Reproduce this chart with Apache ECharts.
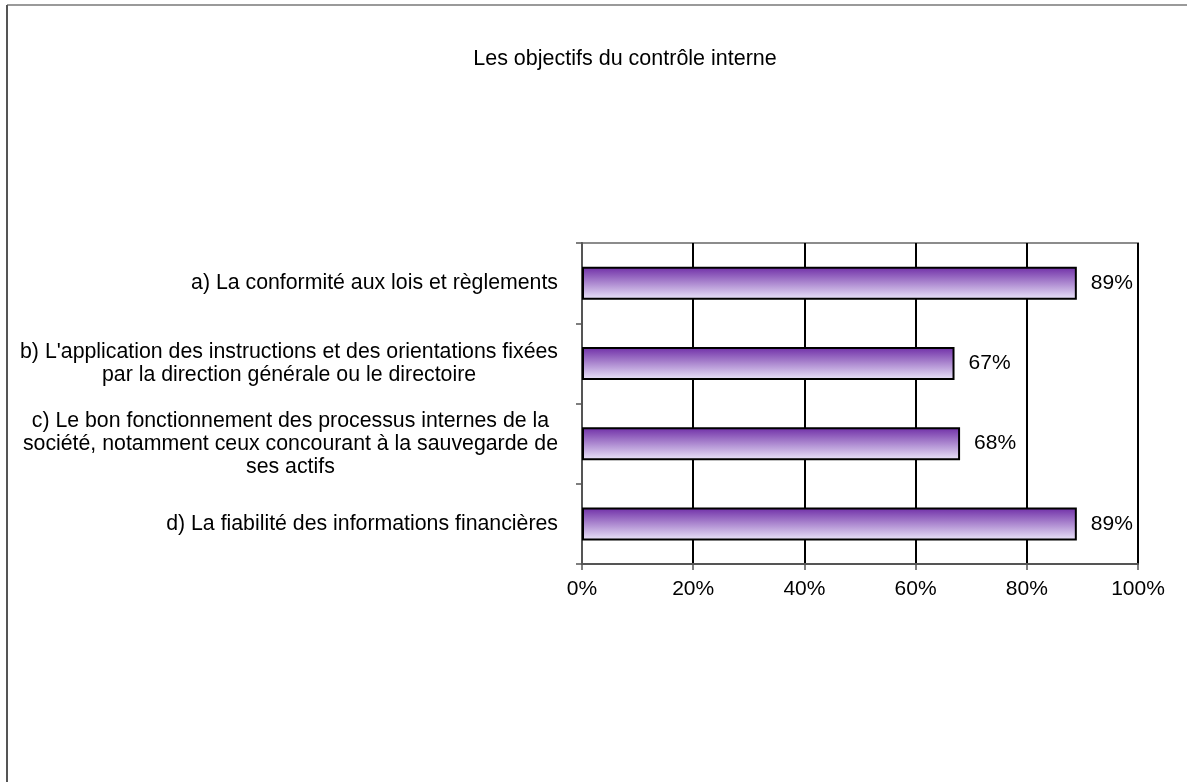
<!DOCTYPE html>
<html><head><meta charset="utf-8">
<script src="https://cdn.jsdelivr.net/npm/echarts@6/dist/echarts.min.js"></script>
<style>html,body{margin:0;padding:0;background:#fff}#c{width:1187px;height:782px}</style>
</head><body><div id="c"></div>
<script>
const chartTitle = 'Les objectifs du contrôle interne';
const categories = [
  'a) La conformité aux lois et règlements',
  "b) L'application des instructions et des orientations fixées\npar la direction générale ou le directoire",
  'c) Le bon fonctionnement des processus internes de la\nsociété, notamment ceux concourant à la sauvegarde de\nses actifs',
  'd) La fiabilité des informations financières'
];
const values = [89, 67, 68, 89];
const tickLabels = ['0%', '20%', '40%', '60%', '80%', '100%'];

const FONT = '"Liberation Sans", Arial, sans-serif';
const FS = 21;
const CAT_FS = 21.3;
const chart = echarts.init(document.getElementById('c'), null, {renderer: 'canvas'});

const option = {
  animation: false,
  backgroundColor: '#fff',
  textStyle: {fontFamily: FONT},
  title: {
    text: chartTitle, left: 620, top: 43, textAlign: 'center',
    textStyle: {fontSize: 21.5, fontWeight: 'normal', color: '#000', fontFamily: FONT}
  },
  grid: {left: 582, right: 49, top: 243, bottom: 218, show: true, borderColor: '#8c8c8c', borderWidth: 2, backgroundColor: 'transparent'},
  xAxis: {
    type: 'value', min: 0, max: 100, interval: 20,
    axisLine: {show: true, lineStyle: {color: '#555', width: 2}},
    axisTick: {show: true, length: 6, lineStyle: {color: '#555', width: 1.5}},
    axisLabel: {fontSize: FS, color: '#000', margin: 15, fontFamily: FONT,
      formatter: v => tickLabels[Math.round(v / 20)]},
    splitLine: {show: true, lineStyle: {color: '#000', width: 2}}
  },
  yAxis: {
    type: 'category', data: categories, inverse: true,
    axisLine: {show: true, lineStyle: {color: '#555', width: 2}},
    axisTick: {show: true, length: 6, lineStyle: {color: '#555', width: 1.5}},
    axisLabel: {show: false},
    splitLine: {show: false}
  },
  series: [{
    type: 'bar', data: values, barWidth: 33,
    itemStyle: {
      color: new echarts.graphic.LinearGradient(0, 0, 0, 1, [
        {offset: 0, color: '#6e2ca6'},
        {offset: 1, color: '#ebe6fa'}
      ]),
      borderColor: '#000', borderWidth: 2
    },
    label: {show: true, position: 'right', distance: 14, fontSize: FS, color: '#000', fontFamily: FONT, formatter: '{c}%'}
  }]
};
chart.setOption(option);

// category labels: centered lines, right edge aligned near the axis
const ctx = document.createElement('canvas').getContext('2d');
ctx.font = CAT_FS + 'px ' + FONT;
const rightEdge = 558;
const labelEls = categories.map((txt, i) => {
  const lines = txt.split('\n');
  const w = Math.max(...lines.map(l => ctx.measureText(l).width));
  const y = chart.convertToPixel({yAxisIndex: 0}, i);
  return {
    type: 'text', x: rightEdge - w / 2, y: y,
    style: {text: txt, align: 'center', verticalAlign: 'middle', font: CAT_FS + 'px ' + FONT, lineHeight: 23, fill: '#000'}
  };
});
chart.setOption({
  graphic: [
    {type: 'line', shape: {x1: 7, y1: 5, x2: 1187, y2: 5}, style: {stroke: '#9a9a9a', lineWidth: 2}},
    {type: 'line', shape: {x1: 7, y1: 5, x2: 7, y2: 782}, style: {stroke: '#555', lineWidth: 2}},
    ...labelEls
  ]
});
</script>
</body></html>
